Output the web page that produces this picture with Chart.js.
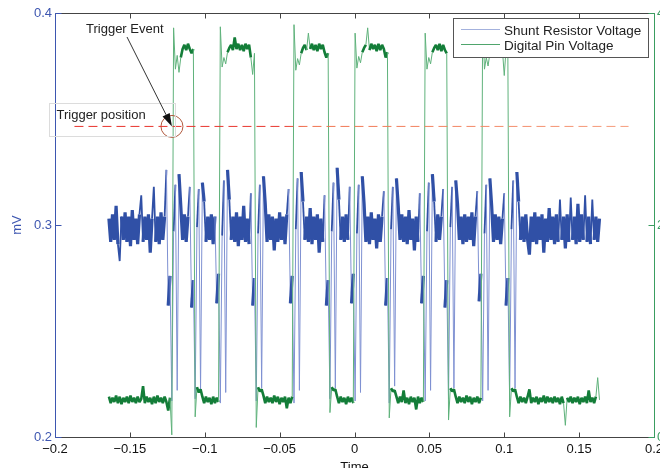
<!DOCTYPE html>
<html>
<head>
<meta charset="utf-8">
<script src="https://cdn.jsdelivr.net/npm/chart.js@4.4.1/dist/chart.umd.min.js"></script>
<style>
  html, body { margin: 0; padding: 0; background: #fff; overflow: hidden; }
  #wrap { width: 700px; height: 490px; }
</style>
</head>
<body>
<div id="wrap"><canvas id="scope" width="700" height="490"></canvas></div>
<script>
// capture clock (s): first sample and sample spacing
const sampleStart = -0.164;
const sampleStep = 0.0012;

// Shunt Resistor Voltage (mV), one value per sample
const shuntVoltage = [
  0.303,0.292,0.305,0.293,0.309,0.291,0.283,0.304,0.293,0.306,
  0.292,0.304,0.290,0.307,0.293,0.303,0.291,0.305,0.314,0.292,
  0.304,0.293,0.305,0.287,0.303,0.318,0.292,0.304,0.291,0.306,
  0.293,0.304,0.326,0.262,0.276,0.217,0.297,0.319,0.222,0.324,
  0.309,0.293,0.305,0.292,0.304,0.318,0.261,0.274,0.218,0.299,
  0.317,0.222,0.320,0.311,0.292,0.304,0.293,0.305,0.291,0.304,
  0.263,0.277,0.216,0.295,0.321,0.221,0.326,0.312,0.293,0.304,
  0.292,0.306,0.290,0.304,0.293,0.309,0.292,0.303,0.291,0.315,
  0.262,0.275,0.217,0.296,0.319,0.223,0.323,0.310,0.292,0.305,
  0.293,0.304,0.288,0.303,0.292,0.306,0.293,0.304,0.291,0.305,
  0.317,0.263,0.276,0.216,0.298,0.322,0.222,0.325,0.311,0.293,
  0.304,0.292,0.308,0.291,0.304,0.293,0.305,0.287,0.303,0.292,
  0.314,0.262,0.274,0.218,0.297,0.320,0.223,0.327,0.312,0.293,
  0.304,0.292,0.305,0.293,0.318,0.263,0.277,0.217,0.296,0.319,
  0.221,0.323,0.310,0.292,0.304,0.291,0.306,0.293,0.303,0.289,
  0.305,0.292,0.304,0.316,0.262,0.275,0.216,0.298,0.318,0.224,
  0.322,0.309,0.293,0.305,0.292,0.304,0.291,0.307,0.293,0.303,
  0.288,0.304,0.292,0.315,0.263,0.276,0.217,0.297,0.320,0.222,
  0.324,0.311,0.292,0.305,0.293,0.304,0.317,0.261,0.274,0.218,
  0.299,0.318,0.223,0.321,0.310,0.293,0.304,0.291,0.305,0.292,
  0.304,0.293,0.306,0.290,0.304,0.316,0.264,0.277,0.217,0.296,
  0.319,0.222,0.322,0.309,0.292,0.305,0.293,0.304,0.291,0.303,
  0.315,0.262,0.275,0.217,0.298,0.321,0.223,0.325,0.311,0.293,
  0.304,0.292,0.305,0.293,0.286,0.304,0.292,0.306,0.291,0.304,
  0.293,0.305,0.287,0.303,0.292,0.308,0.293,0.304,0.291,0.305,
  0.292,0.312,0.293,0.304,0.289,0.305,0.292,0.313,0.293,0.304,
  0.291,0.310,0.292,0.305,0.293,0.314,0.292,0.304,0.291,0.312,
  0.293,0.304,0.292,0.303
];

// Digital Pin Voltage (V), same samples, right axis
const pinVoltage = [
  0.38,0.32,0.37,0.33,0.39,0.32,0.38,0.31,0.37,0.33,
  0.38,0.32,0.39,0.33,0.37,0.32,0.38,0.33,0.36,0.48,
  0.32,0.38,0.33,0.37,0.31,0.38,0.32,0.39,0.33,0.37,
  0.32,0.38,0.33,0.25,0.37,0.02,3.86,3.47,3.60,3.44,
  3.58,3.66,3.70,3.65,3.71,3.66,3.62,3.66,0.19,0.47,
  0.42,0.45,0.38,0.32,0.38,0.33,0.37,0.31,0.38,0.32,
  0.37,0.33,3.87,3.49,3.58,3.52,3.63,3.67,3.70,3.65,
  3.77,3.66,3.71,3.65,3.70,3.64,3.71,3.66,3.70,3.58,
  3.42,3.62,0.09,0.47,0.43,0.45,0.39,0.32,0.38,0.33,
  0.37,0.32,0.39,0.33,0.38,0.31,0.37,0.33,0.38,0.27,
  0.37,0.32,0.38,3.89,3.46,3.57,3.51,3.62,3.67,3.70,
  3.65,3.81,3.66,3.71,3.65,3.70,3.64,3.71,3.66,3.70,
  3.63,3.58,3.62,0.23,0.47,0.44,0.45,0.38,0.32,0.38,
  0.33,0.37,0.31,0.38,0.33,0.37,0.32,3.81,3.48,3.59,
  3.53,3.63,3.67,3.70,3.86,3.65,3.71,3.66,3.70,3.64,
  3.71,3.65,3.70,3.66,3.58,3.63,0.18,0.46,0.43,0.44,
  0.38,0.32,0.38,0.33,0.44,0.32,0.37,0.31,0.38,0.33,
  0.37,0.26,0.38,0.32,0.37,0.33,3.81,3.47,3.58,3.52,
  3.63,3.67,3.70,3.65,3.71,3.64,3.70,3.65,3.62,0.16,
  0.46,0.43,0.45,0.38,0.32,0.38,0.33,0.37,0.32,0.39,
  0.33,0.38,0.31,0.37,0.33,0.38,0.32,0.37,3.95,3.47,
  3.58,3.50,3.62,3.67,3.70,3.65,3.71,3.66,3.70,3.65,
  3.41,3.66,3.62,0.19,0.46,0.43,0.45,0.38,0.32,0.38,
  0.33,0.37,0.32,0.38,0.45,0.32,0.37,0.33,0.38,0.31,
  0.37,0.33,0.39,0.32,0.38,0.33,0.37,0.32,0.38,0.33,
  0.37,0.31,0.38,0.32,0.11,0.37,0.33,0.38,0.32,0.37,
  0.33,0.38,0.31,0.37,0.33,0.38,0.32,0.44,0.33,0.37,
  0.32,0.38,0.56,0.35
];

// trigger marker (time in s, level in mV)
const triggerTime = -0.1219;
const triggerLevel = 0.3465;
const triggerLineSpan = [-0.187, 0.183];

const sampleTimes = shuntVoltage.map((_, i) => sampleStart + i * sampleStep);

const BLUE = '#3050a6';
const BLUE_THIN = '#7f91d2';
const BLUE_TEXT = '#3d56b0';
const GREEN = '#137d38';
const GREEN_THIN = '#5fb27b';
const GREEN_AXIS = '#3a9d60';
const FONT = { family: '"Liberation Sans", Arial, Helvetica, sans-serif', size: 13 };

Chart.defaults.font.family = FONT.family;

const fmt = v => {
  if (Math.abs(v) < 1e-9) return '0';
  return String(+v.toFixed(2)).replace('-', '\u2212');
};

// a segment belongs to a dense trace section when both ends sit inside one band
const inBand = (c, bands) => bands.some(([lo, hi]) =>
  c.p0.parsed.y >= lo && c.p0.parsed.y <= hi && c.p1.parsed.y >= lo && c.p1.parsed.y <= hi);
// one end on the noise floor, the other a short excursion: medium weight so the floor stays closed
const touchesBand = (c, [lo, hi]) =>
  (c.p0.parsed.y >= lo && c.p0.parsed.y <= hi) || (c.p1.parsed.y >= lo && c.p1.parsed.y <= hi);
const shuntBands = [[0.285, 0.31], [0.255, 0.28], [0.307, 0.33]];
const pinBands = [[0.24, 0.5], [3.55, 3.78]];

const shuntWidth = c => {
  if (inBand(c, shuntBands)) return 3.2;
  if (touchesBand(c, shuntBands[0]) && Math.abs(c.p1.parsed.y - c.p0.parsed.y) < 0.04) return 1.8;
  return 1;
};

// axes box, inward ticks, legend and the trigger notes
const overlay = {
  id: 'overlay',
  afterDraw(chart) {
    const { ctx, chartArea: a, scales: { x, y, y1 } } = chart;
    const L = a.left + 0.5, R = a.right + 0.5, T = a.top + 0.5, B = a.bottom + 0.5;
    ctx.save();
    ctx.lineWidth = 1;

    ctx.strokeStyle = '#444';
    ctx.beginPath();
    x.ticks.forEach(t => {
      const px = Math.round(x.getPixelForValue(t.value)) + 0.5;
      ctx.moveTo(px, B); ctx.lineTo(px, B - 5);
      ctx.moveTo(px, T); ctx.lineTo(px, T + 5);
    });
    ctx.moveTo(L, B); ctx.lineTo(R, B);
    ctx.moveTo(L, T); ctx.lineTo(R, T);
    ctx.stroke();

    ctx.strokeStyle = BLUE_TEXT;
    ctx.beginPath();
    y.ticks.forEach(t => {
      const py = Math.round(y.getPixelForValue(t.value)) + 0.5;
      ctx.moveTo(L, py); ctx.lineTo(L + 6, py);
    });
    ctx.moveTo(L, T); ctx.lineTo(L, B);
    ctx.stroke();

    ctx.strokeStyle = GREEN_AXIS;
    ctx.beginPath();
    y1.ticks.forEach(t => {
      const py = Math.round(y1.getPixelForValue(t.value)) + 0.5;
      ctx.moveTo(R, py); ctx.lineTo(R - 6, py);
    });
    ctx.moveTo(R, T); ctx.lineTo(R, B);
    ctx.stroke();

    // legend
    const lx = a.right - 201, ly = a.top + 5, lw = 195, lh = 39;
    ctx.fillStyle = '#fff';
    ctx.fillRect(lx, ly, lw, lh);
    ctx.strokeStyle = '#555';
    ctx.strokeRect(lx + 0.5, ly + 0.5, lw, lh);
    const entries = [
      [chart.data.datasets[1].label, '#a3b1dd'],
      [chart.data.datasets[0].label, '#4fa56c']
    ];
    ctx.font = '13.5px ' + FONT.family;
    ctx.textBaseline = 'alphabetic';
    entries.forEach(([label, color], i) => {
      const ry = ly + 11.5 + i * 15;
      ctx.strokeStyle = color;
      ctx.beginPath();
      ctx.moveTo(lx + 8, ry); ctx.lineTo(lx + 47, ry);
      ctx.stroke();
      ctx.fillStyle = '#222';
      ctx.fillText(label, lx + 51, ry + 5);
    });

    // trigger notes
    ctx.strokeStyle = '#dcdcdc';
    ctx.strokeRect(a.left - 5.5, a.top + 90.5, 126, 33);
    ctx.fillStyle = '#222';
    ctx.font = '13px ' + FONT.family;
    ctx.fillText('Trigger position', a.left + 1.5, a.top + 106);
    ctx.fillText('Trigger Event', a.left + 31, a.top + 20);

    const tipX = x.getPixelForValue(triggerTime);
    const tipY = y.getPixelForValue(triggerLevel);
    const tailX = a.left + 72, tailY = a.top + 24;
    const dx = tipX - tailX, dy = tipY - tailY, len = Math.hypot(dx, dy);
    const ux = dx / len, uy = dy / len;
    const bx = tipX - ux * 13, by = tipY - uy * 13;
    ctx.strokeStyle = '#333';
    ctx.beginPath();
    ctx.moveTo(tailX, tailY); ctx.lineTo(bx, by);
    ctx.stroke();
    ctx.fillStyle = '#111';
    ctx.beginPath();
    ctx.moveTo(tipX, tipY);
    ctx.lineTo(bx - uy * 4, by + ux * 4);
    ctx.lineTo(bx + uy * 4, by - ux * 4);
    ctx.closePath();
    ctx.fill();
    ctx.restore();
  }
};

new Chart(document.getElementById('scope'), {
  type: 'line',
  data: {
    labels: sampleTimes,
    datasets: [
      {
        label: 'Digital Pin Voltage',
        data: pinVoltage,
        yAxisID: 'y1',
        borderColor: GREEN,
        borderWidth: 1,
        borderJoinStyle: 'bevel',
        pointRadius: 0,
        tension: 0,
        order: 1,
        segment: {
          borderColor: c => inBand(c, pinBands) ? GREEN : GREEN_THIN,
          borderWidth: c => inBand(c, pinBands) ? 2.6 : 1
        }
      },
      {
        label: 'Shunt Resistor Voltage',
        data: shuntVoltage,
        yAxisID: 'y',
        borderColor: BLUE,
        borderWidth: 1,
        borderJoinStyle: 'bevel',
        pointRadius: 0,
        tension: 0,
        order: 2,
        segment: {
          borderColor: c => shuntWidth(c) > 1 ? BLUE : BLUE_THIN,
          borderWidth: shuntWidth
        }
      },
      {
        label: 'trigger level',
        data: triggerLineSpan.map(t => ({ x: t, y: triggerLevel })),
        yAxisID: 'y',
        borderDash: [9, 5],
        borderWidth: 1,
        pointRadius: 0,
        order: 0,
        borderColor(c) {
          const a = c.chart.chartArea;
          if (!a) return '#e8453c';
          const g = c.chart.ctx.createLinearGradient(a.left, 0, a.right, 0);
          g.addColorStop(0, '#e8302a');
          g.addColorStop(0.38, '#e8362e');
          g.addColorStop(0.42, '#f0724e');
          g.addColorStop(1, '#f6a080');
          return g;
        }
      },
      {
        label: 'trigger event',
        data: [{ x: triggerTime, y: triggerLevel }],
        yAxisID: 'y',
        showLine: false,
        pointRadius: 11,
        pointBorderWidth: 1,
        pointBorderColor: '#b0583c',
        pointBackgroundColor: 'rgba(0,0,0,0)',
        order: 0
      }
    ]
  },
  options: {
    responsive: false,
    animation: false,
    devicePixelRatio: 1,
    events: [],
    layout: { padding: { top: 13, left: 0, right: 0, bottom: 0 } },
    plugins: { legend: { display: false }, tooltip: { enabled: false } },
    scales: {
      x: {
        type: 'linear',
        position: 'bottom',
        min: -0.2,
        max: 0.2,
        afterFit: s => { s.height = 53; },
        grid: { display: false, drawTicks: false },
        border: { display: false },
        ticks: { stepSize: 0.05, autoSkip: false, maxRotation: 0, padding: 5, color: '#111', font: FONT, callback: fmt },
        title: { display: true, text: 'Time', color: '#111', font: FONT, padding: { top: 0, bottom: 15 } }
      },
      y: {
        position: 'left',
        min: 0.2,
        max: 0.4,
        afterFit: s => { s.width = 55; },
        grid: { display: false, drawTicks: false },
        border: { display: false },
        ticks: { stepSize: 0.1, padding: 3, color: BLUE_TEXT, font: FONT, callback: v => v.toFixed(1) },
        title: { display: true, text: 'mV', color: BLUE_TEXT, font: FONT, padding: { top: 10, bottom: 0 } }
      },
      y1: {
        position: 'right',
        min: 0,
        max: 4,
        afterFit: s => { s.width = 46; },
        grid: { display: false, drawTicks: false },
        border: { display: false },
        ticks: { stepSize: 2, padding: 3, color: GREEN_AXIS, font: FONT }
      }
    }
  },
  plugins: [overlay]
});
</script>
</body>
</html>
